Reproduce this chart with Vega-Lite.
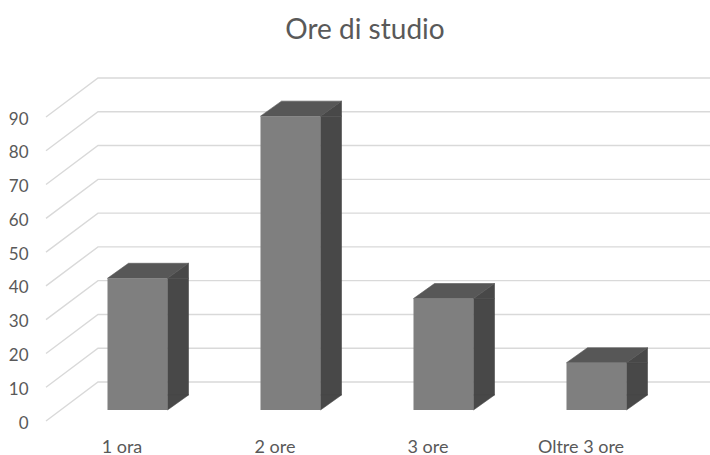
{
"$schema":"https://vega.github.io/schema/vega-lite/v6.json",
"width":710,"height":382,
"autosize":{"type":"none"},
"padding":{"left":0,"top":50,"right":0,"bottom":23},
"background":"white",
"title":{"text":"Ore di studio","font":"Lato","fontSize":28,"fontWeight":"normal","color":"#595959","anchor":"middle","dx":10,"offset":5},
"config":{"view":{"stroke":null}},
"datasets":{
"bars":[{"categoria":"1 ora","ore":39},{"categoria":"2 ore","ore":87},{"categoria":"3 ore","ore":33},{"categoria":"Oltre 3 ore","ore":14}],
"griglia":[{"valore":0},{"valore":10},{"valore":20},{"valore":30},{"valore":40},{"valore":50},{"valore":60},{"valore":70},{"valore":80},{"valore":90}]
},
"encoding":{
"x":{"field":"categoria","type":"nominal","sort":null,"scale":{"domain":["1 ora","2 ore","3 ore","Oltre 3 ore"],"range":[61,673],"paddingInner":0,"paddingOuter":0}},
"y":{"field":"ore","type":"quantitative","stack":null,"scale":{"domain":[0,90],"range":[371,67],"nice":false}}
},
"layer":[
{"data":{"name":"griglia"},
 "mark":{"type":"point","filled":false,"opacity":1,"size":4,"stroke":"#d9d9d9","strokeWidth":1.4,"shape":"M -91.5 0 L -39.5 -39 L 572.5 -39"},
 "encoding":{
  "x":{"datum":"1 ora","type":"nominal","axis":{"title":null,"domain":false,"ticks":false,"labelAngle":0,"labelFont":"Lato","labelFontSize":18,"labelColor":"#595959","labelPadding":6,"labelOffset":-15.5}},
  "y":{"field":"valore","type":"quantitative","axis":{"title":null,"values":[0,10,20,30,40,50,60,70,80,90],"domain":false,"ticks":false,"grid":false,"offset":-28,"labelPadding":0,"labelOffset":2,"labelFont":"Lato","labelFontSize":17,"labelColor":"#595959"}}
 }},
{"data":{"name":"bars"},"mark":{"type":"bar","width":21,"xOffset":40.5,"yOffset":-11,"y2Offset":-26,"color":"#484848","stroke":"#484848","strokeWidth":0.6},"encoding":{"y2":{"datum":0}}},
{"data":{"name":"bars"},"mark":{"type":"point","filled":true,"opacity":1,"size":4,"strokeWidth":0.6,"color":"#484848","stroke":"#484848","shape":"M 30 -11 L 51 -11 L 51 -26 Z"}},
{"data":{"name":"bars"},"mark":{"type":"point","filled":true,"opacity":1,"size":4,"strokeWidth":0.6,"color":"#575757","stroke":"#575757","shape":"M -30 -11 L 30 -11 L 51 -26 L -9 -26 Z"}},
{"data":{"name":"bars"},"mark":{"type":"point","filled":true,"opacity":1,"size":4,"strokeWidth":0.6,"color":"#484848","stroke":"#484848","shape":"M 30 -11 L 30 -26 L 51 -26 Z"},"encoding":{"y":{"datum":0}}},
{"data":{"name":"bars"},"mark":{"type":"bar","width":60,"yOffset":-11,"y2Offset":-11,"color":"#7f7f7f"},"encoding":{"y2":{"datum":0}}}
]
}
